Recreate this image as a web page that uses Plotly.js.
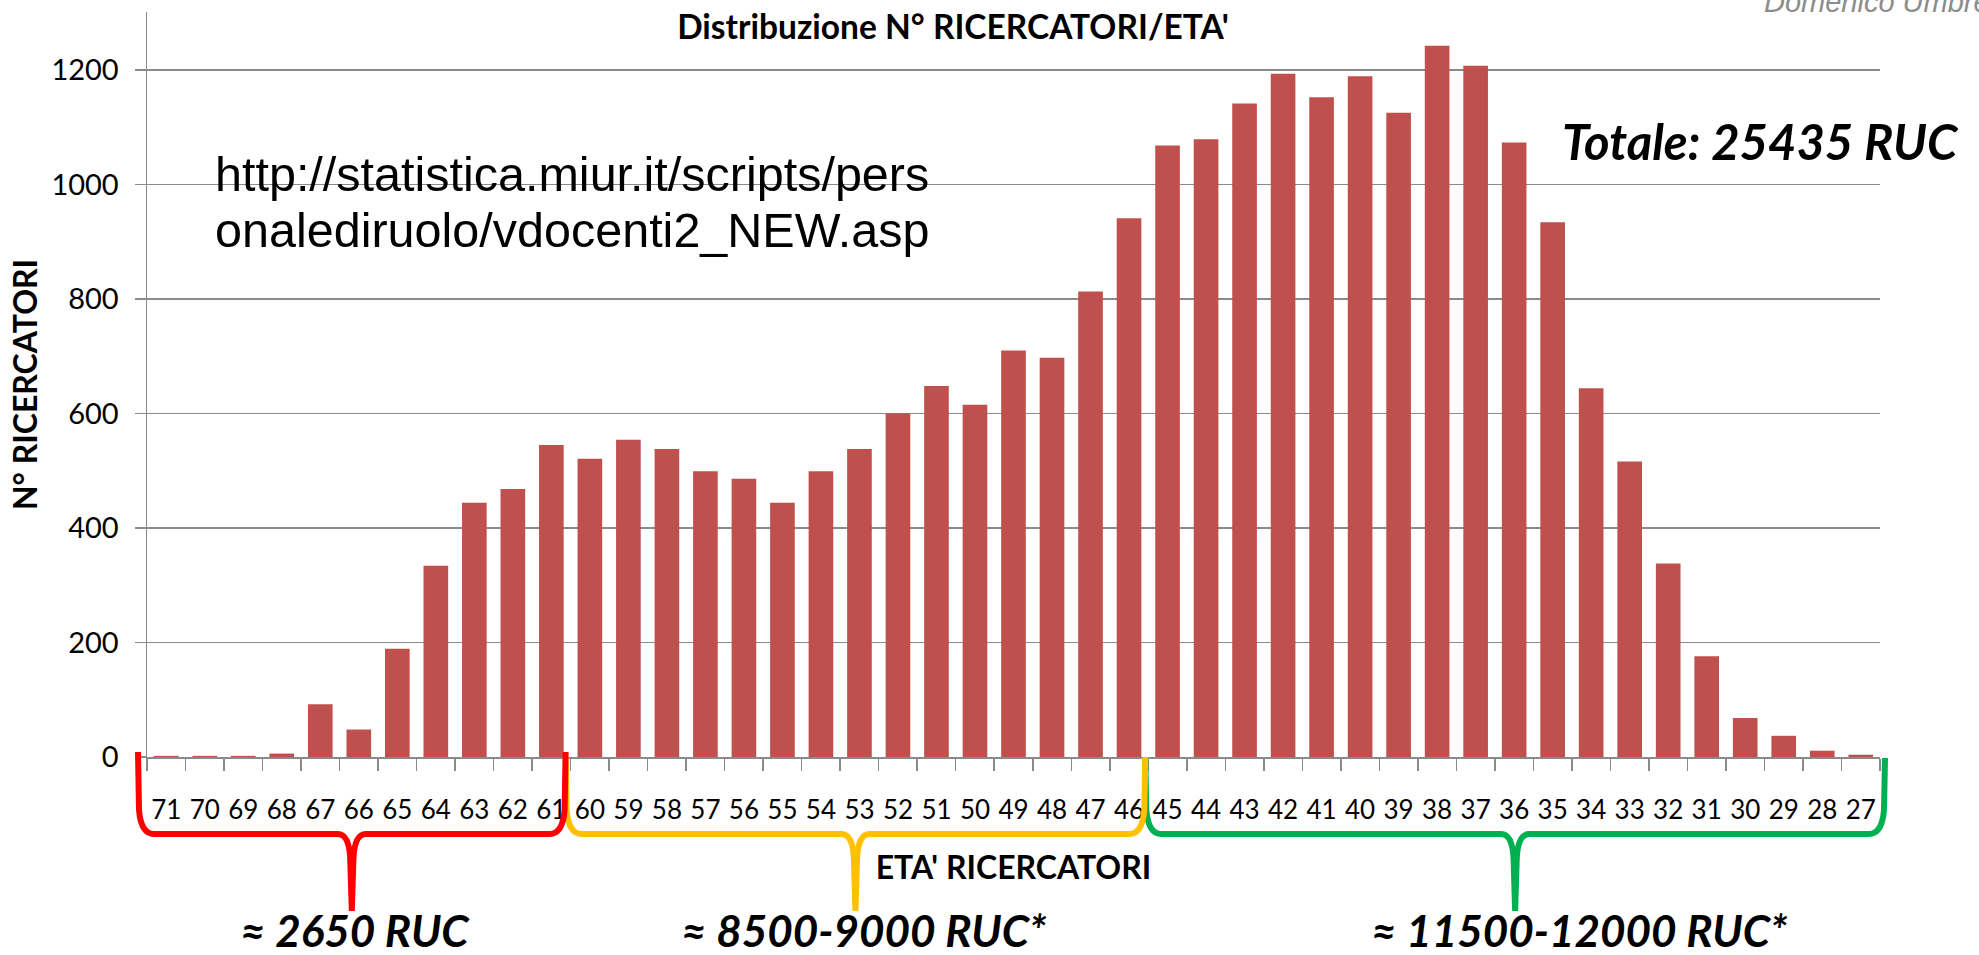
<!DOCTYPE html>
<html>
<head>
<meta charset="utf-8">
<script src="https://cdn.plot.ly/plotly-3.0.1.min.js"></script>
<style>
html,body{margin:0;padding:0;background:#fff;}
#chart{width:1979px;height:955px;}
</style>
</head>
<body>
<div id="chart"></div>
<script>
// ---- data ----
const ages = ['71','70','69','68','67','66','65','64','63','62','61',
  '60','59','58','57','56','55','54','53','52','51','50','49','48','47','46',
  '45','44','43','42','41','40','39','38','37','36','35','34','33','32','31','30','29','28','27'];
const researchers = [2,2,2,6,92,48,189,334,444,468,545,
  521,554,538,499,486,444,499,538,600,648,615,710,697,813,941,
  1068,1079,1141,1193,1152,1189,1125,1242,1207,1073,934,644,516,338,176,68,37,11,4];
const groupFirst = ['71','60','45'];
const groupLast = ['61','46','27'];
const groupLabels = ['≈ 2650 RUC','≈ 8500-9000 RUC*','≈ 11500-12000 RUC*'];
const chartTitle = "Distribuzione N° RICERCATORI/ETA'";
const xTitle = "ETA' RICERCATORI";
const yTitle = "N° RICERCATORI";
const totalText = "Totale: 25435 RUC";
const sourceLines = ["http://statistica.miur.it/scripts/pers","onalediruolo/vdocenti2_NEW.asp"];
const authorText = "Domenico Umbre";

// ---- layout geometry / styles ----
const W = 1979, H = 955;
const M = {l:147, r:99, t:12, b:198};
const PW = W - M.l - M.r, PH = H - M.t - M.b;
const xp = px => (px - M.l) / PW;
const yp = py => (H - M.b - py) / PH;
const nCat = ages.length;
const catW = PW / nCat;
const bx = i => M.l + i * catW;   // pixel of category boundary i

const gridCol = '#8a8a8a';
const braceColors = ['#FF0000','#FFC000','#00B050'];
const braceEndOff = [[-9,-5],[-5,-3],[-3,5]];
const braceTop = [752,757,758];
const labelShift = [3,9,64];
const braceY = 834, spikeY = 911;

const shapes = [];
const annotations = [];
for (let g = groupFirst.length - 1; g >= 0; g--) {
  const i0 = ages.indexOf(groupFirst[g]);
  const i1 = ages.indexOf(groupLast[g]) + 1;
  const x0 = bx(i0) + braceEndOff[g][0];
  const x1 = bx(i1) + braceEndOff[g][1];
  const xm = (x0 + x1) / 2;
  const t = braceTop[g];
  const P = (x, y) => xp(x).toFixed(6) + ',' + yp(y).toFixed(6);
  const path = 'M' + P(x0, t) + ' L' + P(x0 + 1, braceY - 24) +
    ' Q' + P(x0 + 3, braceY) + ' ' + P(x0 + 16, braceY) +
    ' L' + P(xm - 14, braceY) +
    ' Q' + P(xm - 2, braceY) + ' ' + P(xm - 1.5, braceY + 28) +
    ' L' + P(xm, spikeY) +
    ' L' + P(xm + 1.5, braceY + 28) +
    ' Q' + P(xm + 2, braceY) + ' ' + P(xm + 14, braceY) +
    ' L' + P(x1 - 16, braceY) +
    ' Q' + P(x1 - 3, braceY) + ' ' + P(x1 - 1, braceY - 24) +
    ' L' + P(x1, t);
  shapes.push({type:'path', xref:'paper', yref:'paper', path:path,
    line:{color:braceColors[g], width:6}, layer:'above'});
  annotations.push({xref:'paper', yref:'paper', x:xp(xm + labelShift[g]), y:yp(930),
    xanchor:'center', yanchor:'middle', showarrow:false,
    text:'<b><i>' + groupLabels[g] + '</i></b>',
    font:{family:'Lato', size:44, color:'#000'}});
}
annotations.push({xref:'paper', yref:'paper', x:xp(213), y:yp(174), xanchor:'left', yanchor:'middle',
  showarrow:false, text:sourceLines[0], font:{family:'Liberation Sans', size:48.5, color:'#000'}});
annotations.push({xref:'paper', yref:'paper', x:xp(213), y:yp(230), xanchor:'left', yanchor:'middle',
  showarrow:false, text:sourceLines[1], font:{family:'Liberation Sans', size:48.5, color:'#000'}});
annotations.push({xref:'paper', yref:'paper', x:xp(1560), y:yp(141), xanchor:'left', yanchor:'middle',
  showarrow:false, text:'<b><i>' + totalText + '</i></b>', font:{family:'Lato', size:49, color:'#000'}});
annotations.push({xref:'paper', yref:'paper', x:xp(1762), y:yp(2), xanchor:'left', yanchor:'middle',
  showarrow:false, text:'<i>' + authorText + '</i>', font:{family:'Liberation Sans', size:29, color:'#8c8c8c'}});

const trace = {
  type:'bar', x:ages, y:researchers,
  marker:{color:'#C0504D', line:{width:0}},
  hoverinfo:'x+y'
};

const layout = {
  width:W, height:H,
  margin:M,
  paper_bgcolor:'#ffffff', plot_bgcolor:'#ffffff',
  showlegend:false,
  bargap:0.36,
  font:{family:'Lato', color:'#000'},
  title:{text:'<b>' + chartTitle + '</b>', x:953/W, xanchor:'center', xref:'container',
    y:1 - 27/H, yanchor:'middle', yref:'container', font:{family:'Lato', size:33.5, color:'#000'}},
  xaxis:{type:'category', categoryorder:'array', categoryarray:ages, range:[-0.5, nCat - 0.5],
    showline:true, linecolor:gridCol, linewidth:1.5, mirror:false,
    ticks:'outside', ticklen:12, tickwidth:1.5, tickcolor:gridCol, tickson:'boundaries',
    showgrid:false, zeroline:false, automargin:false, tickangle:0,
    ticklabelstandoff:29,
    tickfont:{family:'Lato', size:26, color:'#000'},
    title:{text:'<b>' + xTitle + '</b>', font:{family:'Lato', size:32, color:'#000'}, standoff:33}},
  yaxis:{range:[0, 1301], dtick:200, tick0:0,
    showline:true, linecolor:gridCol, linewidth:1.5,
    ticks:'outside', ticklen:11, tickwidth:1.5, tickcolor:gridCol,
    showgrid:true, gridcolor:gridCol, gridwidth:1.5, zeroline:false, automargin:false,
    ticklabelstandoff:10,
    tickfont:{family:'Lato', size:29, color:'#000'},
    title:{text:'<b>' + yTitle + '</b>', font:{family:'Lato', size:32, color:'#000'}, standoff:4}},
  shapes:shapes,
  annotations:annotations
};

Plotly.newPlot('chart', [trace], layout, {displayModeBar:false, staticPlot:true});
</script>
</body>
</html>
